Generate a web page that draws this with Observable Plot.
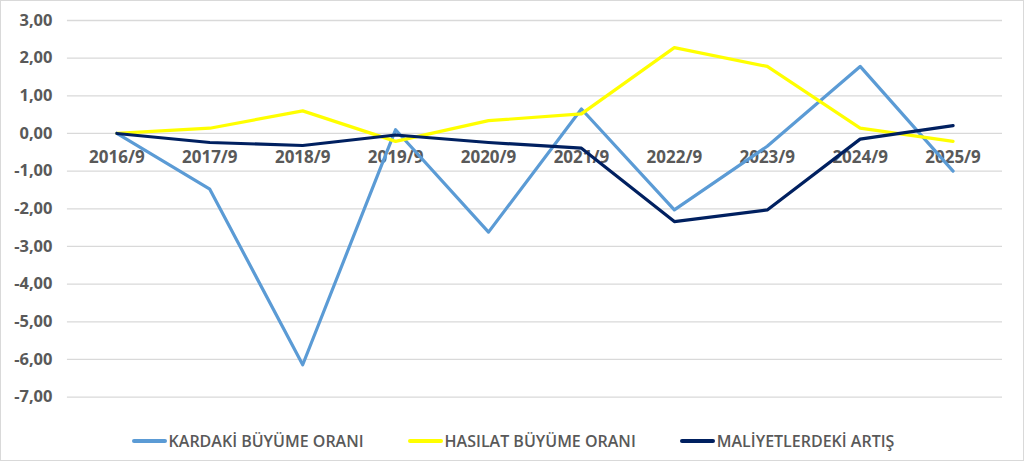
<!DOCTYPE html>
<html>
<head>
<meta charset="utf-8">
<script src="https://cdn.jsdelivr.net/npm/d3@7"></script>
<script src="https://cdn.jsdelivr.net/npm/@observablehq/plot@0.6"></script>
<style>
  html, body { margin: 0; padding: 0; background: #fff; }
  #wrap { position: relative; width: 1024px; height: 461px; box-sizing: border-box; border: 1px solid #d9d9d9; overflow: hidden; }
  #chart { position: absolute; left: -1px; top: -1px; }
  #legend { position: absolute; left: 0; top: 429px; width: 1024px; display: flex; justify-content: center; gap: 44px;
    font-family: "Open Sans", sans-serif; font-weight: 600; font-size: 16px; color: #595959; }
  .item { display: flex; align-items: center; }
  .sw { width: 35px; height: 4px; border-radius: 2px; margin-right: 2px; }
</style>
</head>
<body>
<div id="wrap"><div id="chart"></div><div id="legend"></div></div>
<script>
const categories = ["2016/9","2017/9","2018/9","2019/9","2020/9","2021/9","2022/9","2023/9","2024/9","2025/9"];
const kardaki = [0, -1.48, -6.14, 0.10, -2.62, 0.65, -2.03, -0.34, 1.78, -1.00];
const hasilat = [0, 0.14, 0.60, -0.21, 0.34, 0.52, 2.28, 1.78, 0.14, -0.21];
const maliyet = [0, -0.24, -0.32, -0.04, -0.24, -0.39, -2.34, -2.03, -0.15, 0.21];
const seriesNames = ["KARDAKİ BÜYÜME ORANI", "HASILAT BÜYÜME ORANI", "MALİYETLERDEKİ ARTIŞ"];
const seriesColors = ["#5B9BD5", "#FFFF00", "#002060"];
const yTicks = [3, 2, 1, 0, -1, -2, -3, -4, -5, -6, -7];

const seriesValues = [kardaki, hasilat, maliyet];
const rows = seriesValues.flatMap((vals, s) => vals.map((v, i) => ({cat: categories[i], value: v, series: seriesNames[s]})));
const fmt = d => d.toFixed(2).replace(".", ",");

const chart = Plot.plot({
  width: 1024,
  height: 415,
  marginTop: 20,
  marginBottom: 18,
  marginLeft: 67,
  marginRight: 21,
  style: { fontFamily: "'Open Sans', sans-serif", background: "transparent" },
  x: { type: "band", domain: categories, padding: 0, axis: null },
  y: { domain: [-7, 3], ticks: yTicks, axis: null },
  color: { domain: seriesNames, range: seriesColors },
  marks: [
    Plot.gridY(yTicks, { stroke: "#d9d9d9", strokeOpacity: 1, strokeWidth: 1.3 }),
    Plot.axisY(yTicks, { tickSize: 0, tickPadding: 15, tickFormat: fmt, fontSize: 16.5, fontWeight: 700, fill: "#595959", label: null }),
    Plot.text(categories, { x: d => d, y: () => 0, dy: 24, text: d => d, fontSize: 17, fontWeight: 700, fill: "#595959" }),
    Plot.line(rows, { x: "cat", y: "value", z: "series", stroke: "series", strokeWidth: 3.2, strokeLinejoin: "round", strokeLinecap: "round" })
  ]
});
document.getElementById("chart").appendChild(chart);

const legend = document.getElementById("legend");
seriesNames.forEach((name, i) => {
  const it = document.createElement("div");
  it.className = "item";
  const sw = document.createElement("div");
  sw.className = "sw";
  sw.style.background = seriesColors[i];
  const t = document.createElement("span");
  t.textContent = name;
  it.appendChild(sw); it.appendChild(t);
  legend.appendChild(it);
});
</script>
</body>
</html>
